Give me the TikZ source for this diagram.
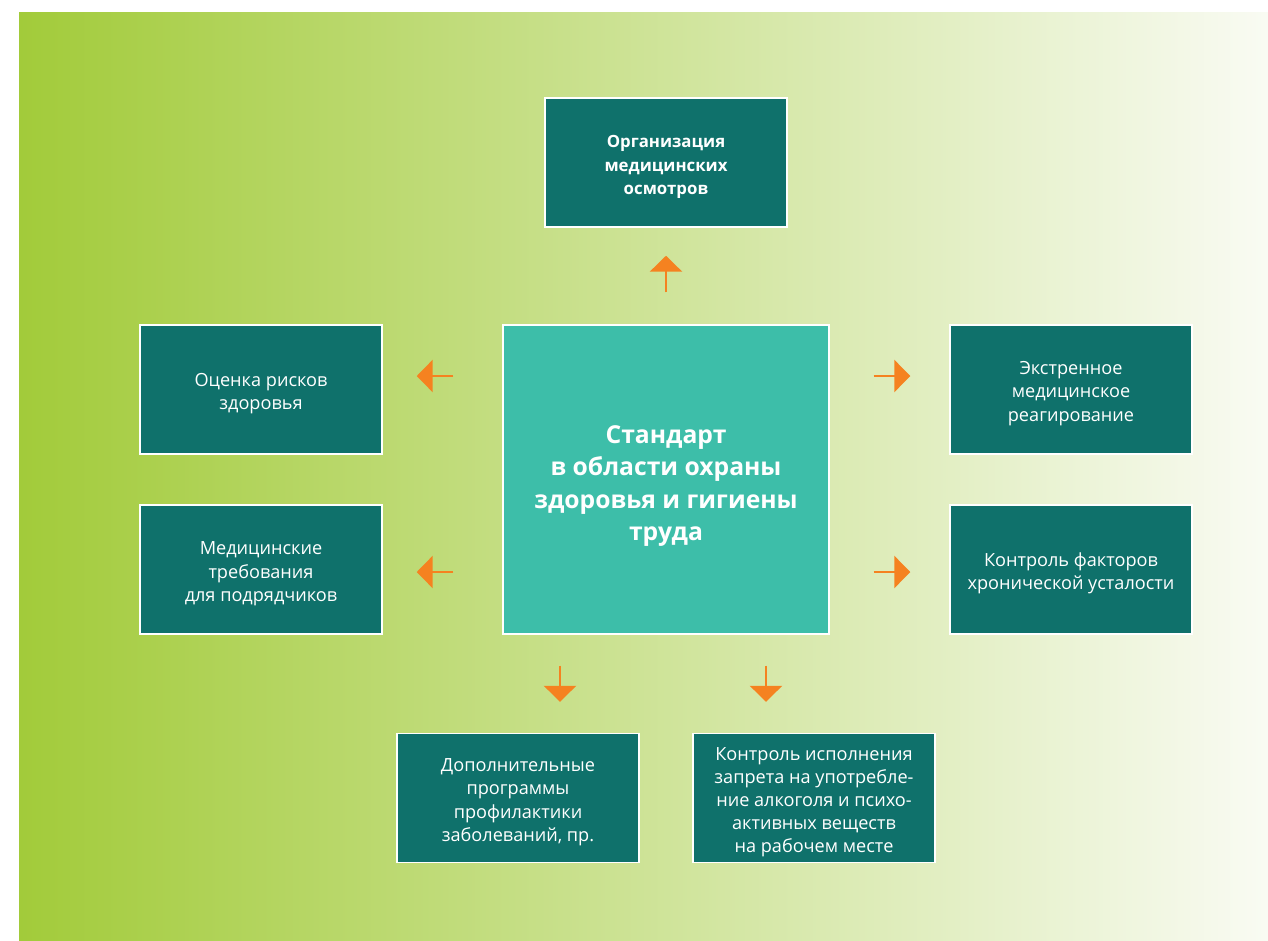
\documentclass[tikz,border=0pt]{standalone}
\usepackage{fontspec}
\setmainfont{Open Sans}
\usepackage{xcolor}
\definecolor{tealdark}{HTML}{0F716B}
\definecolor{tealmid}{HTML}{3DBEA9}
\definecolor{arrorange}{HTML}{F58220}
\definecolor{bgleft}{HTML}{A2CB3A}
\definecolor{bgright}{HTML}{F9FBF3}
\usepackage{tikz}
\usetikzlibrary{
  arrows.meta,
  positioning,
  calc
}
% подъём первой строки (текст чуть ниже центра блока)
\newcommand{\boxlift}{\rule{0pt}{16pt}}

\begin{document}
\begin{tikzpicture}[
  x=0.75pt, y=-0.75pt,
  box/.style={rectangle, draw=white, line width=1.1pt, fill=tealdark, text=white, align=center,
    minimum width=181.5pt, minimum height=96.75pt, inner sep=0pt,
    font=\fontsize{13.6}{17.4}\selectfont},
  hub/.style={rectangle, draw=white, line width=1.1pt, fill=tealmid, text=white, align=center,
    minimum width=244.5pt, minimum height=231.75pt, inner sep=0pt,
    font=\fontsize{18.5}{24.2}\selectfont\bfseries},
  arr/.style={-{Triangle[length=12pt, width=24pt]}, line width=2.2pt, arrorange},
]

% Поле и фон
\useasboundingbox (0,0) rectangle (1268,940);
\shade[left color=bgleft, right color=bgright] (19,12) rectangle (1268,940);

% Центральный блок
\node[hub] (std) at (666,479.5) {\rule{0pt}{23pt}Стандарт\\в области охраны\\здоровья и гигиены\\труда};

% Блоки вокруг
\node[box, font=\fontsize{12.6}{17.4}\selectfont\bfseries] (osmotr) at (666,162.5) {\boxlift Организация\\медицинских\\осмотров};
\node[box] (risk) at (261,389.5) {\boxlift Оценка рисков\\здоровья};
\node[box] (podr) at (261,569.5) {\boxlift Медицинские\\требования\\для подрядчиков};
\node[box] (ekstr) at (1071,389.5) {\boxlift Экстренное\\медицинское\\реагирование};
\node[box] (ustal) at (1071,569.5) {\boxlift Контроль факторов\\хронической усталости};
\node[box] (profil) at (518,798) {\boxlift Дополнительные\\программы\\профилактики\\заболеваний, пр.};
\node[box] (alko) at (814,798) {\boxlift Контроль исполнения\\запрета на употребле-\\ние алкоголя и психо-\\активных веществ\\на рабочем месте};

% Точки выхода стрелок
\path (risk.east) ++(0,-13.5) coordinate (riskin);
\path (podr.east) ++(0,2.5) coordinate (podrin);
\path (ekstr.west) ++(0,-13.5) coordinate (ekstrin);
\path (ustal.west) ++(0,2.5) coordinate (ustalin);
\path (std.south) ++(-106,0) coordinate (dn1);
\path (std.south) ++(100,0) coordinate (dn2);

% Стрелки
\draw[arr, shorten <=24pt, shorten >=21pt] (std.north) -- (osmotr.south);
\draw[arr, shorten <=36.75pt, shorten >=25.5pt] (std.west |- riskin) -- (riskin);
\draw[arr, shorten <=36.75pt, shorten >=25.5pt] (std.west |- podrin) -- (podrin);
\draw[arr, shorten <=33pt, shorten >=29.25pt] (std.east |- ekstrin) -- (ekstrin);
\draw[arr, shorten <=33pt, shorten >=29.25pt] (std.east |- ustalin) -- (ustalin);
\draw[arr, shorten <=23.25pt, shorten >=23.25pt] (dn1) -- (dn1 |- profil.north);
\draw[arr, shorten <=23.25pt, shorten >=23.25pt] (dn2) -- (dn2 |- alko.north);

\end{tikzpicture}
\end{document}
